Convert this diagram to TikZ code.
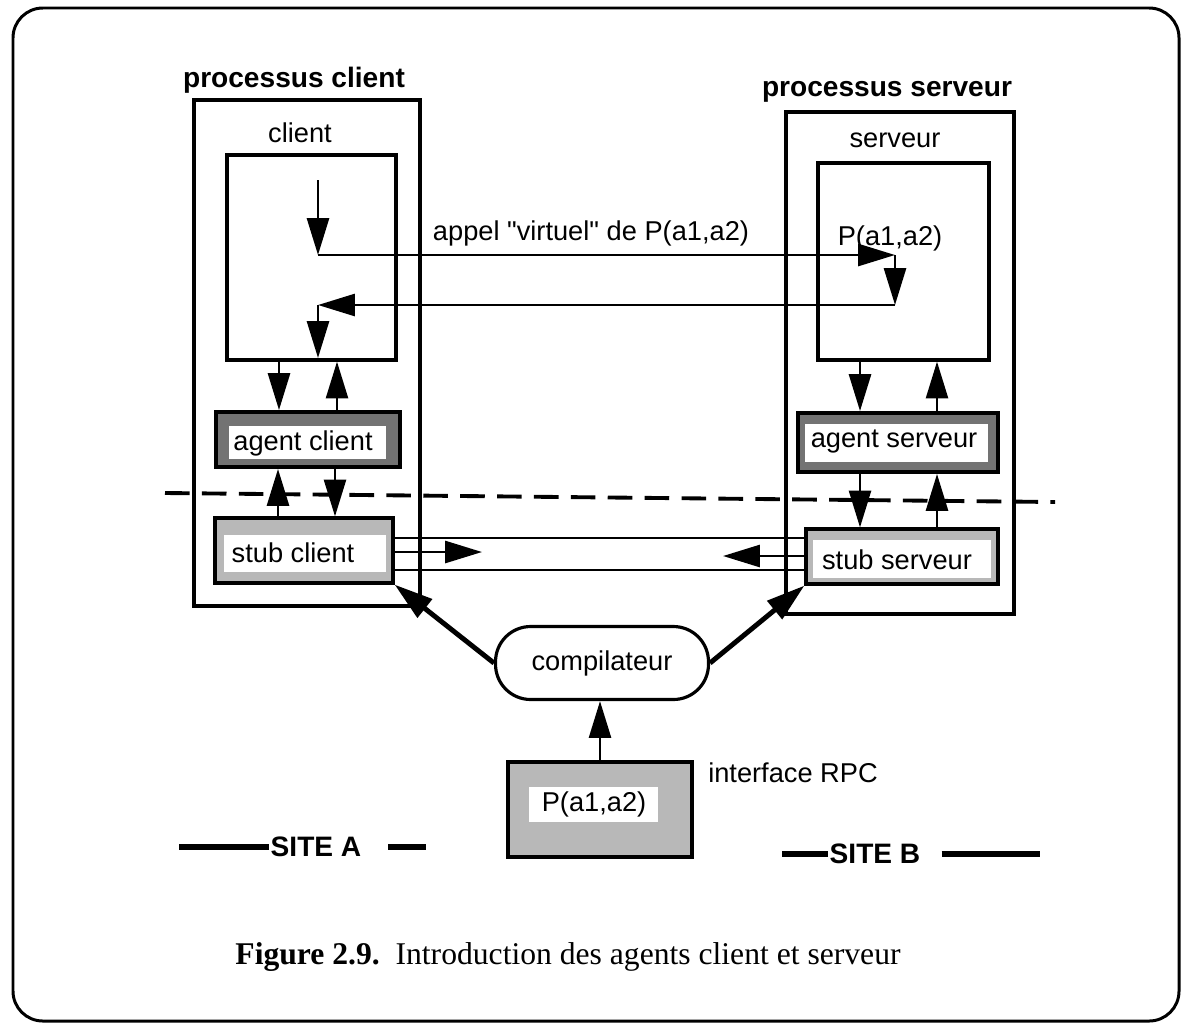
\documentclass[tikz,border=0pt]{standalone}
\usepackage{fontspec}
\setmainfont{Liberation Sans}
\newfontfamily\legende{Liberation Serif}
\usetikzlibrary{arrows.meta,fit}

\begin{document}
\begin{tikzpicture}[x=0.02cm,y=-0.02cm,
  every node/.style={font=\fontsize{15.5}{18}\selectfont},
  titre/.style={font=\fontsize{16}{19}\selectfont\bfseries},
  cadre/.style={draw,line width=2.8pt,inner sep=0pt},
  boite/.style={draw,line width=1.8pt,inner sep=0pt},
  agent/.style={draw,line width=2.2pt,fill=black!55,inner sep=0pt},
  stub/.style={draw,line width=1.8pt,fill=black!28,inner sep=0pt},
  blanc/.style={fill=white,inner sep=0pt},
  fleche/.style={line width=1.6pt,-{Triangle[length=21pt,width=12.5pt]}},
  grosse/.style={line width=2.8pt,-{Triangle[length=22pt,width=13pt]}},
  trait/.style={line width=1.6pt},
  site/.style={line width=3.4pt}]

\useasboundingbox (0,0) rectangle (1185,1025);
\draw[line width=1.7pt,rounded corners=17pt] (13,8) rectangle (1179,1021);

% site A : processus client
\node[titre] (pc) at (294,80) {processus client};
\node[cadre,fit={(194,100) (420,606)}] (cc) {};
\node (lc) at (300,133) {client};
\node[boite,fit={(227,155) (396,360)}] (bc) {};
\node[agent,fit={(216,412) (400,467)}] (ac) {};
\node[blanc,fit={(229,426) (386,459)}] (tac) {};
\node at (303,443) {agent client};
\node[stub,fit={(215,518) (393,583)}] (sc) {};
\node[blanc,fit={(224,535) (386,572)}] (tsc) {};
\node at (293,553) {stub client};

% site B : processus serveur
\node[titre] (ps) at (887,92) {processus serveur};
\node[cadre,fit={(786,112) (1014,614)}] (cs) {};
\node (ls) at (895,140) {serveur};
\node[boite,fit={(818,163) (989,360)}] (bs) {};
\node (proc) at (890,238) {P(a1,a2)};
\node[agent,fit={(798,413) (998,472)}] (as) {};
\node[blanc,fit={(805,424) (988,462)}] (tas) {};
\node at (894,442) {agent serveur};
\node[stub,fit={(806,529) (998,584)}] (ss) {};
\node[blanc,fit={(813,540) (991,578)}] (tss) {};
\node at (897,560) {stub serveur};

% appel virtuel
\node (appel) at (591,233) {appel \textquotedbl virtuel\textquotedbl{} de P(a1,a2)};
\coordinate (c1) at (318,180);
\coordinate (c2) at (318,255);
\coordinate (s1) at (895,255);
\coordinate (s2) at (895,305);
\coordinate (c3) at (318,305);
\coordinate (c4) at (318,358);
\draw[fleche] (c1) -- (c2);
\draw[fleche] (c2) -- (s1);
\draw[fleche] (s1) -- (s2);
\draw[fleche] (s2) -- (c3);
\draw[fleche] (c3) -- (c4);

% client <-> agent <-> stub
\draw[fleche] (279,0 |- bc.south) -- (279,0 |- ac.north);
\draw[fleche] (337,0 |- ac.north) -- (337,0 |- bc.south);
\draw[fleche] (278,0 |- sc.north) -- (278,0 |- ac.south);
\draw[fleche] (335,0 |- ac.south) -- (335,0 |- sc.north);
\draw[fleche] (860,0 |- bs.south) -- (860,0 |- as.north);
\draw[fleche] (937,0 |- as.north) -- (937,0 |- bs.south);
\draw[fleche] (860,0 |- as.south) -- (860,0 |- ss.north);
\draw[fleche] (937,0 |- ss.north) -- (937,0 |- as.south);

% frontiere
\draw[line width=2.2pt,dash pattern=on 14pt off 7pt] (165,493) -- (1055,502);

% stub client <-> stub serveur
\coordinate (vc) at (482,552);
\coordinate (vs) at (723,556);
\draw[trait] (sc.east |- 0,538) -- (ss.west |- 0,538);
\draw[fleche] (sc.east |- vc) -- (vc);
\draw[fleche] (ss.west |- vs) -- (vs);
\draw[trait] (sc.east |- 0,570) -- (ss.west |- 0,570);

% compilateur
\node[draw,line width=1.8pt,rounded corners=20pt,minimum width=4.26cm,minimum height=1.46cm] (comp) at (602,663) {compilateur};
\draw[grosse] (comp.west) -- (sc.south east);
\draw[grosse] (comp.east) -- (ss.south west);

% interface RPC
\node[stub,fit={(508,762) (692,857)}] (ip) {};
\node[blanc,fit={(529,787) (658,822)}] (tip) {};
\node at (594,804) {P(a1,a2)};
\node (lip) at (793,773) {interface RPC};
\draw[fleche] (600,0 |- ip.north) -- (600,0 |- comp.south);

% sites
\node[titre,inner sep=1pt] (sa) at (316,847) {SITE A};
\draw[site] (sa.west) -- ++(-90,0);
\draw[site] ([xshift=14pt]sa.east) -- ++(38,0);
\node[titre,inner sep=1pt] (sb) at (875,854) {SITE B};
\draw[site] (sb.west) -- ++(-46,0);
\draw[site] ([xshift=11pt]sb.east) -- ++(98,0);

% legende
\node[font=\legende\fontsize{18}{21}\selectfont] (leg) at (568,957) {\textbf{Figure 2.9.}\ \ Introduction des agents client et serveur};
\end{tikzpicture}
\end{document}
